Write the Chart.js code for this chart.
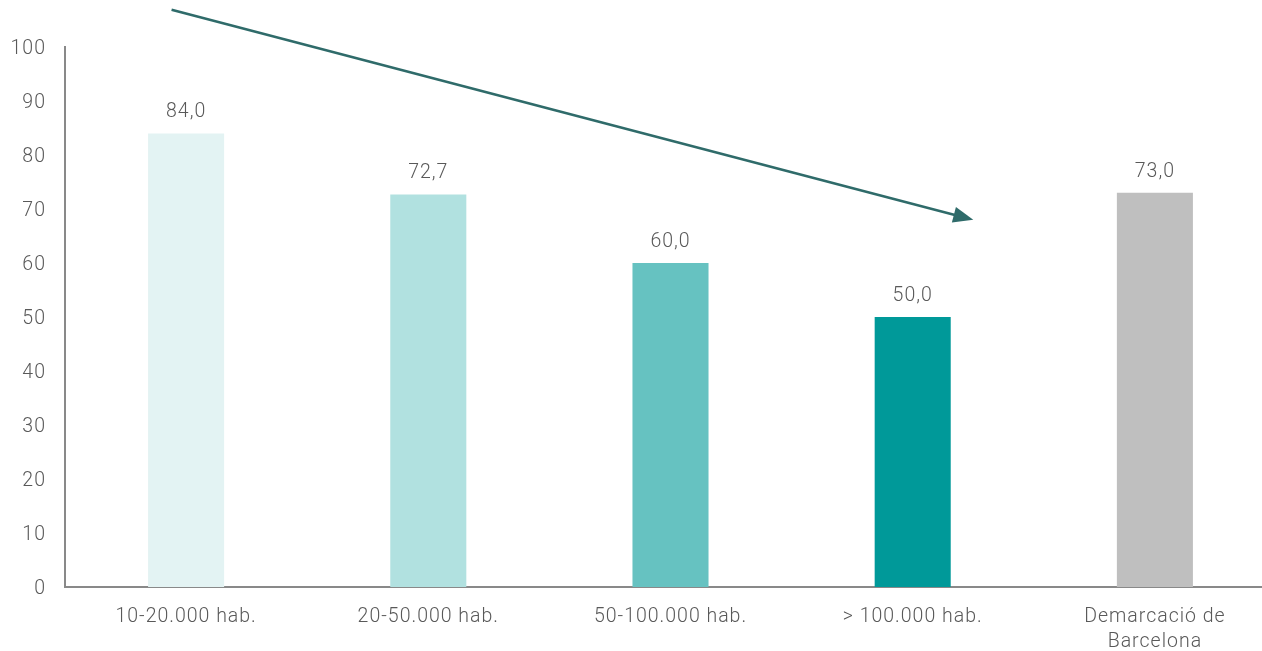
<!DOCTYPE html>
<html>
<head>
<meta charset="utf-8">
<script src="https://cdn.jsdelivr.net/npm/chart.js@4"></script>
<style>
  html, body { margin: 0; padding: 0; background: #fff; overflow: hidden; }
  #wrap { width: 1276px; height: 651px; }
</style>
</head>
<body>
<div id="wrap"><canvas id="grafico"></canvas></div>
<script>
// Dados do gráfico
const categorias = ["10-20.000 hab.", "20-50.000 hab.", "50-100.000 hab.", "> 100.000 hab.", ["Demarcació de", "Barcelona"]];
const valores = [84.0, 72.7, 60.0, 50.0, 73.0];
const cores = ["#E3F3F3", "#B1E1E0", "#66C2C1", "#009999", "#BFBFBF"];
const ticksY = [0, 10, 20, 30, 40, 50, 60, 70, 80, 90, 100];
// seta de tendência em unidades do gráfico (índice de categoria, valor)
const setaInicio = [-0.06, 106.9];
const setaFim = [3.25, 68.0];

const corTexto = "#595959";
const fonte = { family: "Roboto, 'Liberation Sans', Arial, sans-serif", size: 19.5, weight: 300 };

// Espaçamento entre letras (a fonte original é mais larga)
const espacoPlugin = {
  id: "espaco",
  beforeDraw(chart) { chart.ctx.letterSpacing = "1px"; }
};

// Plugin para escrever os valores em cima das barras
const rotulosPlugin = {
  id: "rotulos",
  afterDatasetsDraw(chart) {
    const ctx = chart.ctx;
    const meta = chart.getDatasetMeta(0);
    ctx.save();
    ctx.font = fonte.weight + " " + fonte.size + "px " + fonte.family;
    ctx.fillStyle = corTexto;
    ctx.textAlign = "center";
    ctx.textBaseline = "middle";
    meta.data.forEach((barra, i) => {
      ctx.fillText(valores[i].toFixed(1).replace(".", ","), barra.x, barra.y - 21);
    });
    ctx.restore();
  }
};

// Plugin para desenhar a seta
const setaPlugin = {
  id: "seta",
  afterDraw(chart) {
    const x = chart.scales.x, y = chart.scales.y;
    const passo = x.getPixelForValue(1) - x.getPixelForValue(0);
    const x0 = x.getPixelForValue(0) + passo * setaInicio[0];
    const y0 = y.getPixelForValue(setaInicio[1]);
    const x1 = x.getPixelForValue(0) + passo * setaFim[0];
    const y1 = y.getPixelForValue(setaFim[1]);
    const ang = Math.atan2(y1 - y0, x1 - x0);
    const comp = 20, larg = 8;
    const ctx = chart.ctx;
    ctx.save();
    ctx.strokeStyle = "#2F6B6A";
    ctx.fillStyle = "#2F6B6A";
    ctx.lineWidth = 2.5;
    ctx.beginPath();
    ctx.moveTo(x0, y0);
    ctx.lineTo(x1 - Math.cos(ang) * comp * 0.8, y1 - Math.sin(ang) * comp * 0.8);
    ctx.stroke();
    ctx.beginPath();
    ctx.moveTo(x1, y1);
    ctx.lineTo(x1 - Math.cos(ang) * comp - Math.sin(ang) * larg, y1 - Math.sin(ang) * comp + Math.cos(ang) * larg);
    ctx.lineTo(x1 - Math.cos(ang) * comp + Math.sin(ang) * larg, y1 - Math.sin(ang) * comp - Math.cos(ang) * larg);
    ctx.closePath();
    ctx.fill();
    ctx.restore();
  }
};

const ctx = document.getElementById("grafico").getContext("2d");
new Chart(ctx, {
  type: "bar",
  data: {
    labels: categorias,
    datasets: [{
      data: valores,
      backgroundColor: cores,
      borderWidth: 0,
      categoryPercentage: 1,
      barPercentage: 0.314
    }]
  },
  options: {
    responsive: true,
    maintainAspectRatio: false,
    animation: false,
    layout: { padding: { top: 47, left: 0, right: 0, bottom: 0 } },
    plugins: { legend: { display: false }, tooltip: { enabled: false } },
    scales: {
      x: {
        grid: { display: false, drawTicks: false },
        border: { display: true, color: "#898989", width: 2 },
        ticks: { color: corTexto, font: { ...fonte, lineHeight: 1.3 }, padding: 17, maxRotation: 0, autoSkip: false },
        afterFit(scale) { scale.height = 64; }
      },
      y: {
        min: 0,
        max: 100,
        afterBuildTicks(scale) { scale.ticks = ticksY.map(v => ({ value: v })); },
        grid: { display: false, drawTicks: false },
        border: { display: true, color: "#898989", width: 2 },
        ticks: { color: corTexto, font: fonte, padding: 19, labelOffset: 2 },
        afterFit(scale) { scale.width = 65; }
      }
    }
  },
  plugins: [espacoPlugin, rotulosPlugin, setaPlugin]
});
</script>
</body>
</html>
